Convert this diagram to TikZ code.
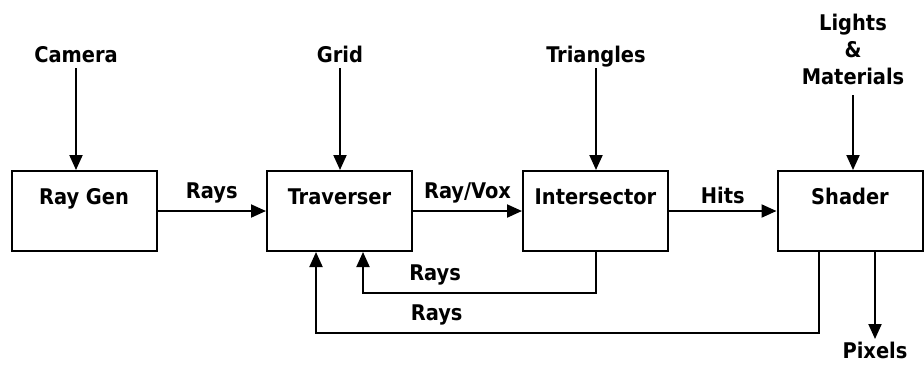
\documentclass[tikz,border=0pt]{standalone}
\usepackage{fontspec}
\setmainfont{DejaVu Sans Condensed}
\usepackage{tikz}
\usetikzlibrary{positioning, arrows.meta, calc}

\tikzset{
  stage/.style={draw, line width=1pt, minimum width=72.5pt, minimum height=40pt,
    text height=8pt, text depth=15pt, inner sep=0pt},
  source/.style={inner sep=1.5pt, text depth=1pt, align=center},
  flow/.style={line width=1pt, -{Triangle[length=7.5pt, width=6.5pt]}},
}

\begin{document}
\begin{tikzpicture}[x=0.5pt, y=-0.5pt, font=\fontsize{10.8}{13.5}\selectfont\bfseries]
  \useasboundingbox (0,0) rectangle (924,366);

  % pipeline stages
  \node[stage] (raygen) at (84,211)    {Ray Gen};
  \node[stage] (trav)   at (339.5,211) {Traverser};
  \node[stage] (inter)  at (595.5,211) {Intersector};
  \node[stage] (shader) at (850,211)   {Shader};

  % scene inputs
  \node[source, anchor=south] (camera) at (76,68)  {Camera};
  \node[source, anchor=south] (grid)   at (340,68) {Grid};
  \node[source, anchor=south] (tris)   at (596,68) {Triangles};
  \node[source, anchor=south, inner sep=4pt] (lights) at (853,95) {Lights\\\&\\Materials};
  \node[source, anchor=north] (pixels) at (875,339) {Pixels};

  \draw[flow] (camera.south) -- (camera.south |- raygen.north);
  \draw[flow] (grid.south) -- (grid.south |- trav.north);
  \draw[flow] (tris.south) -- (tris.south |- inter.north);
  \draw[flow] (lights.south) -- (lights.south |- shader.north);

  % forward flow
  \draw[flow] (raygen) -- node[above] {Rays} (trav);
  \draw[flow] (trav) -- node[above] {Ray/Vox} (inter);
  \draw[flow] (inter) -- node[above] {Hits} (shader);
  \draw[flow] (pixels.north |- shader.south) -- (pixels.north);

  % rays sent back to the traverser
  \draw[flow] (inter.south) -- ++(0,41) -| node[pos=0.345, above] {Rays} ($(trav.south)+(23.5,0)$);
  \draw[flow] ($(shader.south)+(-31,0)$) -- ++(0,81) -| node[pos=0.38, above] {Rays} ($(trav.south)+(-23.5,0)$);
\end{tikzpicture}
\end{document}
